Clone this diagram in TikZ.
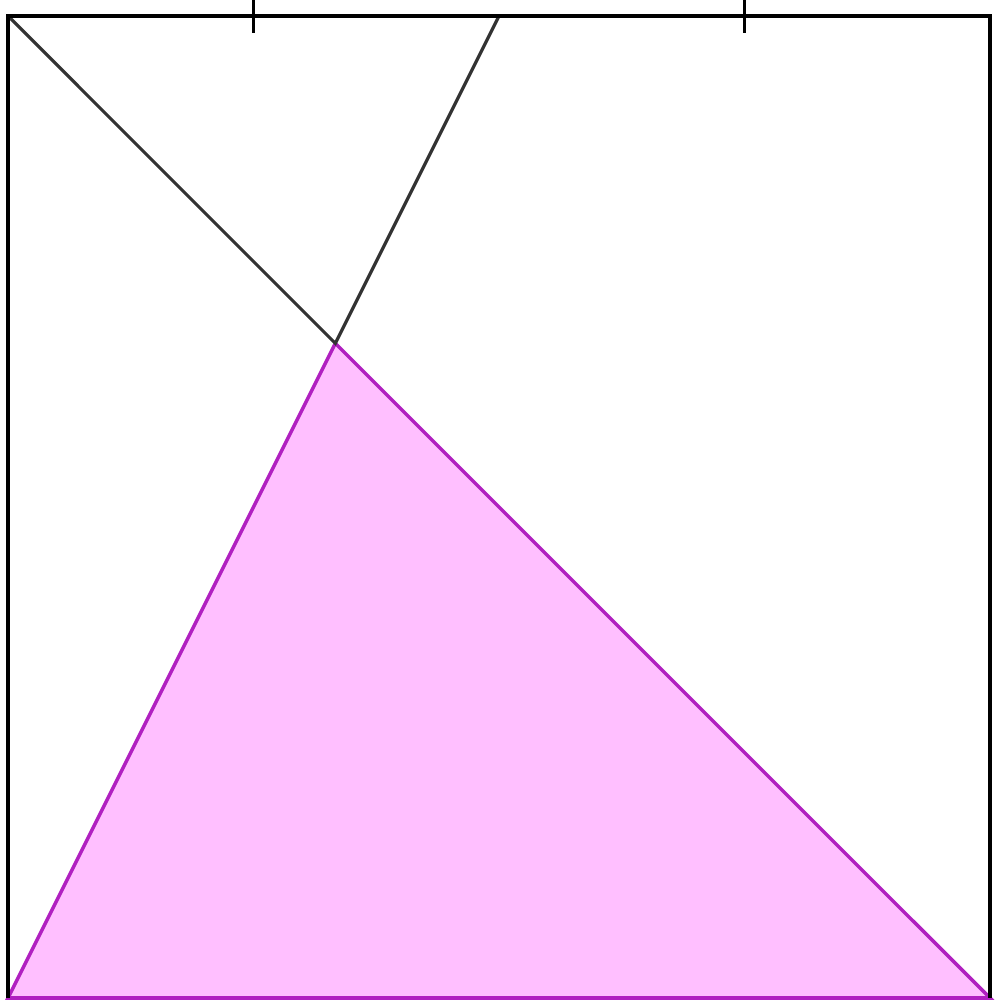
\documentclass[tikz,border=0pt]{standalone}
\usepackage{tikz}
\usetikzlibrary{positioning}

\definecolor{triFill}{HTML}{FFBFFF}
\definecolor{triEdge}{HTML}{B020C0}
\definecolor{cutLine}{HTML}{333333}

\begin{document}
\begin{tikzpicture}[
      x=9.82cm, y=9.82cm,
      frame/.style={draw=black, line width=1.3pt},
      cut/.style={draw=cutLine, line width=0.9pt},
      tri/.style={draw=triEdge, fill=triFill, line width=1pt, line join=miter},
      tick/.style={draw=black, line width=1.1pt}
    ]
    \useasboundingbox (-0.08cm,-0.04cm) rectangle (9.92cm,9.98cm);

    % Corners and points
    \coordinate (bl) at (0,0);
    \coordinate (br) at (1,0);
    \coordinate (tl) at (0,1);
    \coordinate (tr) at (1,1);
    \coordinate (topmid) at (0.5,1);
    \coordinate (apex) at (1/3,2/3);

    % Triangle
    \path[tri] (bl) -- (apex) -- (br) -- cycle;

    % Cut lines
    \draw[cut] (tl) -- (apex) -- (topmid);

    % Frame
    \draw[frame] (bl) -- (tl) -- (tr) -- (br);

    % Ticks on top edge
    \foreach \t in {0.25, 0.75}
      \draw[tick] (\t,0.983) -- (\t,1.02);

  \end{tikzpicture}
\end{document}
